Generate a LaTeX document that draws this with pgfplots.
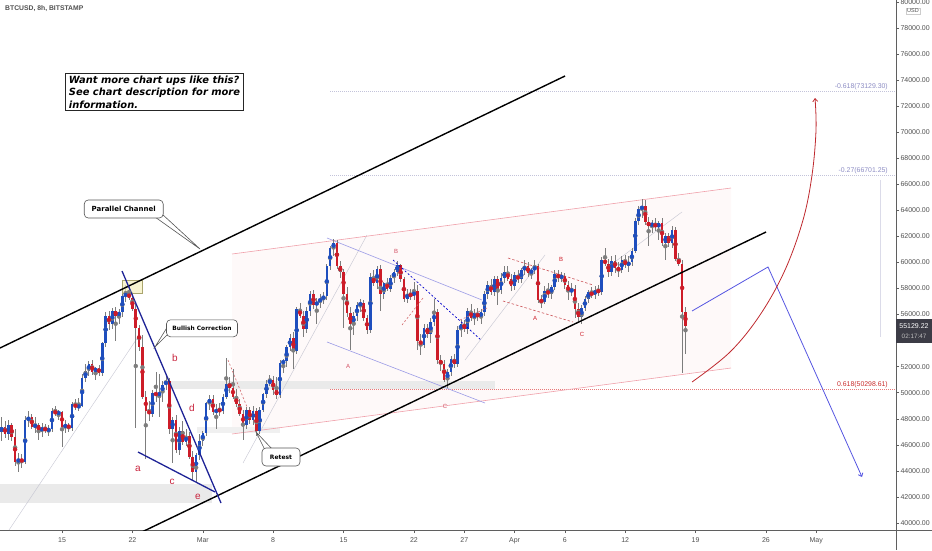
\documentclass[border=0pt]{standalone}
\usepackage{fontspec}
\setmainfont{Liberation Sans}
\newfontfamily\dejavu{DejaVu Sans}
\usepackage{pgfplots}
\usepackage{pgfplotstable}
\pgfplotsset{compat=1.18}
\usetikzlibrary{arrows.meta}

\definecolor{cblue}{RGB}{30,78,190}
\definecolor{cred}{RGB}{205,28,40}
\definecolor{wick}{RGB}{125,125,125}
\definecolor{navy}{RGB}{30,35,150}
\definecolor{pblue}{RGB}{85,85,225}
\definecolor{darkred}{RGB}{190,40,45}
\definecolor{lav}{RGB}{155,155,230}
\definecolor{pinkl}{RGB}{240,160,170}
\definecolor{pinkfill}{RGB}{254,249,249}
\definecolor{band}{RGB}{234,234,234}
\definecolor{bandl}{RGB}{240,240,240}
\definecolor{fibgray}{RGB}{195,195,218}
\definecolor{fibtext}{RGB}{140,140,195}
\definecolor{fibred}{RGB}{200,45,45}
\definecolor{fibredline}{RGB}{232,120,120}
\definecolor{letterred}{RGB}{200,35,60}
\definecolor{axisgray}{RGB}{95,95,95}
\definecolor{ticktext}{RGB}{80,80,80}
\definecolor{thingray}{RGB}{200,200,212}
\definecolor{yelfill}{RGB}{245,240,190}
\definecolor{yelborder}{RGB}{170,165,110}
\definecolor{tagbg}{RGB}{60,60,70}
\definecolor{boxgray}{RGB}{85,85,85}

\pgfplotstableread{
X o h l c
-18 47000 48100 46300 47400
-17 47400 47800 46500 46800
-16 46800 47900 46400 47500
-15 47500 47700 46300 46600
-14 46600 47200 44400 44700
-13 44700 45400 43900 44900
-12 44900 45300 44200 44700
-11 44700 48200 44500 47900
-10 47900 48600 47400 48100
-9 48100 48400 47200 47400
-8 47400 48100 46900 47500
-7 47500 47700 46400 47100
-6 47100 47700 46600 47300
-5 47300 47600 46900 47100
-4 47100 47500 46700 47200
-3 47200 48800 47000 48600
-2 48600 49000 48200 48400
-1 48400 48700 47900 48500
0 48500 48600 45800 47400
1 47400 47900 46900 47500
2 47500 47700 47000 47300
3 47300 49300 47100 49100
4 49100 49500 48700 48900
5 48900 49600 48600 49000
6 49000 51400 48900 51100
7 51100 52200 50800 51700
8 51700 52400 51300 52200
9 52200 52500 51400 51600
10 51600 52000 51000 51900
11 51900 52100 51300 51500
12 51500 53900 51300 53800
13 53800 56200 53500 55900
14 55900 56300 54800 55300
15 55300 56500 54900 56300
16 56300 56600 54000 55900
17 55900 56400 55300 56200
18 56200 57700 55800 57400
19 57400 58300 57000 57600
20 57600 58350 57100 57300
21 57300 57700 56300 56400
22 56400 56800 47300 55000
23 55000 55200 53200 53500
24 53500 54400 49500 49700
25 49700 50100 44900 48600
26 48600 49400 47800 48400
27 48400 50200 48100 50000
28 50000 51600 49300 49800
29 49800 51400 48100 50000
30 50000 50900 49300 50600
31 50600 51400 50200 50900
32 50900 51100 46800 47200
33 47200 48100 44600 47900
34 47900 48300 45400 45600
35 45600 47400 45200 47100
36 47100 47800 46000 46200
37 46200 47200 45900 46700
38 46700 47000 44900 45100
39 45100 45500 43300 43900
40 43900 45400 43100 45200
41 45200 46800 44800 46300
42 46300 47100 45900 46900
43 46900 49300 46700 49200
44 49200 49800 48700 49500
45 49500 49800 48300 48500
46 48500 49100 47200 48700
47 48700 49200 48200 48600
48 48600 49900 48400 49700
49 49700 52700 49500 50700
50 50700 51200 50000 50400
51 50400 51800 49500 49700
52 49700 50300 48900 49100
53 49100 49500 48200 48400
54 48400 48700 46400 47500
55 47500 48900 47200 48700
56 48700 48900 47600 47900
57 47900 49000 47500 48600
58 48600 48800 46700 47100
59 47100 48900 46800 48700
60 48700 50000 48500 49900
61 49900 51000 49600 50700
62 50700 51400 50500 51000
63 51000 51300 49800 50200
64 50200 51200 49500 49800
65 49800 52500 49600 52300
66 52300 52600 51500 52400
67 52400 53700 52000 53500
68 53500 54500 53200 54200
69 54200 54700 51800 53200
70 53200 56600 53000 56400
71 56400 56900 55700 55900
72 55900 56300 54300 54900
73 54900 56600 54600 56300
74 56300 57800 55900 57600
75 57600 57900 56400 56700
76 56700 57300 55300 57000
77 57000 57600 56500 57200
78 57200 57700 56800 57400
79 57400 59900 57100 59700
80 59700 61300 59400 61100
81 61100 61800 60500 61500
82 61500 61700 59500 59700
83 59700 60100 58800 59300
84 59300 59500 55000 57600
85 57600 58100 55800 56100
86 56100 56600 53300 55300
87 55300 56200 54400 55900
88 55900 57000 55500 56700
89 56700 57200 56200 56900
90 56900 57100 55500 55700
91 55700 56000 54500 54800
92 54800 59200 54600 58900
93 58900 59400 58200 58400
94 58400 59700 58000 59500
95 59500 59800 56300 57600
96 57600 58500 57200 58400
97 58400 58800 57800 58000
98 58000 59000 57700 58800
99 58800 59500 58400 59300
100 59300 60100 59000 59800
101 59800 59900 58500 58700
102 58700 58900 57000 57200
103 57200 58000 56900 57600
104 57600 58000 57100 57400
105 57400 58500 57100 57800
106 57800 58300 53300 54000
107 54000 54500 52900 53700
108 53700 55300 53400 55000
109 55000 55300 54200 54500
110 54500 55700 53800 55400
111 55400 57200 55100 56200
112 56200 56400 52200 52500
113 52500 52900 51700 52200
114 52200 52500 50800 51000
115 51000 51800 50400 51600
116 51600 52800 51300 52600
117 52600 53000 51900 52200
118 52200 55100 52000 54800
119 54800 55600 54300 55300
120 55300 55600 54700 54900
121 54900 56500 54500 56300
122 56300 56800 55500 55700
123 55700 56400 55200 56100
124 56100 56500 55500 55800
125 55800 56400 55300 56200
126 56200 57800 55900 57600
127 57600 58600 57200 58300
128 58300 58700 57500 57700
129 57700 59000 57400 58700
130 58700 59000 56700 57900
131 57900 59200 57600 58800
132 58800 59700 58400 59300
133 59300 59700 58600 58700
134 58700 59100 57800 58200
135 58200 59300 57900 59000
136 59000 59400 58400 58700
137 58700 59600 58400 59400
138 59400 60200 59000 59700
139 59700 60000 58900 59200
140 59200 59600 58700 59400
141 59400 60200 59100 59700
142 59700 59900 56900 57100
143 57100 57500 56500 57000
144 57000 58200 56800 57800
145 57800 58400 57300 57600
146 57600 58300 57200 58100
147 58100 59400 57900 59100
148 59100 59400 58500 58800
149 58800 59300 58500 59000
150 59000 59200 58000 58300
151 58300 58600 57100 57700
152 57700 58400 57400 58000
153 58000 58300 55700 56400
154 56400 56900 55500 55800
155 55800 56700 55300 56500
156 56500 57400 56300 57200
157 57200 57900 56900 57700
158 57700 58100 57300 57500
159 57500 58200 57200 57900
160 57900 58300 57400 57700
161 57700 60400 57500 60200
162 60200 61100 59700 59900
163 59900 60300 58900 59300
164 59300 60500 59000 60100
165 60100 60600 59200 59600
166 59600 60000 58900 59400
167 59400 60500 59200 60200
168 60200 60600 59600 59800
169 59800 60500 59300 60000
170 60000 61100 59700 60900
171 60900 63400 60700 63200
172 63200 64300 62900 64100
173 64100 64850 63400 64300
174 64300 64800 62900 63100
175 63100 63500 61300 62800
176 62800 63300 62300 63000
177 63000 63400 62400 62700
178 62700 63200 61700 63000
179 63000 63400 61300 61500
180 61500 62300 60200 62000
181 62000 62300 61200 61500
182 61500 62800 61100 62500
183 62500 62700 60100 60300
184 60300 60700 59700 59900
185 59900 60200 51500 56200
186 56200 56600 53000 55129
}\candles

\begin{document}
\begin{tikzpicture}
\useasboundingbox (0,-20pt) rectangle (932pt,530pt);
\begin{axis}[
  at={(0,0)}, anchor=south west,
  width=896pt, height=530pt, scale only axis,
  xmin=-18.5, xmax=248.8, ymin=39462, ymax=80150,
  axis x line*=bottom, axis y line*=right,
  axis line style={axisgray, line width=0.6pt},
  xtick={0,21,42,63,84,105,120,135,150,168,189,210,225},
  xticklabels={15,22,Mar,8,15,22,27,Apr,6,12,19,26,May},
  ytick={40000,42000,44000,46000,48000,50000,52000,54000,56000,58000,60000,62000,64000,66000,68000,70000,72000,74000,76000,78000,80000},
  yticklabels={40000.00,42000.00,44000.00,46000.00,48000.00,50000.00,52000.00,54000.00,56000.00,58000.00,60000.00,62000.00,64000.00,66000.00,68000.00,70000.00,72000.00,74000.00,76000.00,78000.00,80000.00},
  tick align=outside, major tick length=3pt,
  tick style={axisgray, line width=0.5pt},
  ticklabel style={font=\fontsize{7}{8}\selectfont, text=ticktext},
  xticklabel style={yshift=-1.5pt},
  yticklabel style={anchor=west, xshift=-2pt},
  clip=true,
]
% background areas
\addplot[draw=none, fill=pinkfill] coordinates {(50.72,60650) (199.58,65717) (199.58,51898) (50.72,46832)} -- cycle;
\addplot[draw=none, fill=band] coordinates {(-18.5,42993) (44.75,42993) (44.75,41534) (-18.5,41534)} -- cycle;
\addplot[draw=none, fill=band] coordinates {(31.62,50901) (129.18,50901) (129.18,50287) (31.62,50287)} -- cycle;
\addplot[draw=none, fill=bandl] coordinates {(40.27,47370) (65.04,47370) (65.04,46909) (40.27,46909)} -- cycle;

% fib levels
\addplot[fibgray, dash pattern=on 1pt off 1pt, line width=0.5pt] coordinates {(79.95,73129.3) (248.8,73129.3)};
\addplot[fibgray, dash pattern=on 1pt off 1pt, line width=0.5pt] coordinates {(79.95,66701.25) (248.8,66701.25)};
\addplot[fibredline, dash pattern=on 1.2pt off 0.8pt, line width=0.5pt] coordinates {(79.95,50298.61) (248.8,50298.61)};
\addplot[fibgray!60, line width=0.4pt] coordinates {(244.03,66330) (244.03,54279)};

% thin trend lines
\addplot[thingray, line width=0.45pt] coordinates {(-15.81,39462) (22.67,54279)};
\addplot[thingray, line width=0.45pt] coordinates {(54.0,44606) (90.99,62109)};
\addplot[thingray, line width=0.45pt] coordinates {(120.23,52513) (144.09,60574)};
\addplot[thingray, line width=0.45pt] coordinates {(162.89,59653) (184.96,63877)};

% pink channel
\addplot[pinkl, line width=0.6pt] coordinates {(50.72,60650) (199.58,65717)};
\addplot[pinkl, line width=0.6pt] coordinates {(50.72,46832) (199.58,51898)};

% lavender ABC channel
\addplot[lav, line width=0.6pt] coordinates {(79.06,61879) (125.3,57119)};
\addplot[lav, line width=0.6pt] coordinates {(79.06,53895) (126.19,49212)};

% candles: wicks
\addplot[only marks, mark=none, color=wick,
  error bars/.cd, y dir=both, y explicit, error mark=none,
  error bar style={line width=0.7pt, draw=wick}]
  table[x=X, y expr={(\thisrow{h}+\thisrow{l})/2}, y error expr={(\thisrow{h}-\thisrow{l})/2}] {\candles};
% candles: up bodies
\addplot[only marks, mark=none, color=cblue,
  restrict expr to domain={\thisrow{c}-\thisrow{o}}{0:1000000},
  error bars/.cd, y dir=both, y explicit, error mark=none,
  error bar style={line width=2.6pt, draw=cblue}]
  table[x=X, y expr={(\thisrow{o}+\thisrow{c})/2}, y error expr={(\thisrow{c}-\thisrow{o})/2}] {\candles};
% candles: down bodies
\addplot[only marks, mark=none, color=cred,
  restrict expr to domain={\thisrow{o}-\thisrow{c}}{0.5:1000000},
  error bars/.cd, y dir=both, y explicit, error mark=none,
  error bar style={line width=2.6pt, draw=cred}]
  table[x=X, y expr={(\thisrow{o}+\thisrow{c})/2}, y error expr={(\thisrow{o}-\thisrow{c})/2}] {\candles};

% dashed lines
\addplot[blue!80!black, dash pattern=on 2pt off 2pt, line width=0.7pt] coordinates {(98.75,60190) (125.0,54048)};
\addplot[darkred!70, dash pattern=on 2pt off 2pt, line width=0.6pt] coordinates {(101.43,55200) (107.70,57273)};
\addplot[darkred!70, dash pattern=on 2pt off 2pt, line width=0.6pt] coordinates {(49.52,52513) (55.19,48905)};
\addplot[darkred!70, dash pattern=on 2pt off 2pt, line width=0.6pt] coordinates {(118.74,55584) (126.79,56505)};
\addplot[darkred!80, dash pattern=on 2.5pt off 2pt, line width=0.6pt] coordinates {(133.05,60343) (158.41,58270)};
\addplot[darkred!80, dash pattern=on 2.5pt off 2pt, line width=0.6pt] coordinates {(131.56,57042) (152.45,55430)};

% yellow box
\addplot[fill=yelfill, fill opacity=0.7, draw=yelborder, line width=0.5pt] coordinates {(17.9,58654) (23.87,58654) (23.87,57656) (17.9,57656)} -- cycle;

% black parallel channel
\addplot[black, line width=1.4pt] coordinates {(-18.5,53434) (150.06,74315)};
\addplot[black, line width=1.4pt] coordinates {(24.0,39330) (210.02,62339)};

% falling wedge
\addplot[navy, line width=1.3pt] coordinates {(17.9,59345) (47.43,41534)};
\addplot[navy, line width=1.3pt] coordinates {(22.67,45450) (45.64,42379)};

% projection paths
\addplot[pblue, line width=0.8pt, -{Straight Barb[length=3pt,width=5pt]}] coordinates {(187.95,56275) (210.62,59653) (238.66,43531)};
\addplot[darkred, line width=0.8pt, smooth, tension=0.6, -{Straight Barb[length=3pt,width=5pt]}] coordinates {(187.95,50824) (199.28,53127) (208.23,55968) (215.69,59422) (221.06,63261) (223.75,66715) (224.94,70170) (224.64,72626)};

% fib labels
\node[anchor=south east, inner sep=1pt, text=fibtext, font=\fontsize{6.9}{8}\selectfont] at (axis cs:246.7,73129.3) {-0.618(73129.30)};
\node[anchor=south east, inner sep=1pt, text=fibtext, font=\fontsize{6.9}{8}\selectfont] at (axis cs:246.7,66701.25) {-0.27(66701.25)};
\node[anchor=south east, inner sep=1pt, text=fibred, font=\fontsize{6.9}{8}\selectfont] at (axis cs:246.7,50298.61) {0.618(50298.61)};

% title
\node[anchor=west, inner sep=0pt, text=ticktext, font=\fontsize{6.8}{8}\selectfont\bfseries] at (axis cs:-17.0,79459) {BTCUSD, 8h, BITSTAMP};

% info box
\node[anchor=north west, draw=black!85, line width=0.8pt, fill=white, align=left, inner xsep=3.5pt, inner ysep=2.5pt, font=\dejavu\bfseries\itshape\fontsize{9.9}{12.4}\selectfont] at (axis cs:0.895,74546) {Want more chart ups like this?\\See chart description for more\\information.};

% callouts
\draw[boxgray, fill=white, line width=0.6pt] (axis cs:27.74,63491) -- (axis cs:41.17,61034) -- (axis cs:29.83,63721);
\node[draw=boxgray, fill=white, rounded corners=4pt, line width=0.6pt, minimum width=79pt, minimum height=18pt, inner sep=1pt, font=\dejavu\bfseries\fontsize{7}{8}\selectfont] at (axis cs:18.41,64105) {Parallel Channel};
\draw[boxgray, fill=white, line width=0.6pt] (axis cs:31.6,55123) -- (axis cs:27.74,53511) -- (axis cs:31.6,54509);
\node[draw=boxgray, fill=white, rounded corners=4pt, line width=0.6pt, minimum width=71pt, minimum height=17pt, inner sep=1pt, font=\dejavu\bfseries\fontsize{5.9}{7}\selectfont] at (axis cs:41.77,54946) {Bullish Correction};
\draw[boxgray, fill=white, line width=0.6pt] (axis cs:60.56,45600) -- (axis cs:57.88,46986) -- (axis cs:62.95,45600);
\node[draw=boxgray, fill=white, rounded corners=4pt, line width=0.6pt, minimum width=38pt, minimum height=18pt, inner sep=1pt, font=\dejavu\bfseries\fontsize{6}{7}\selectfont] at (axis cs:65.33,45066) {Retest};

% wave letters
\node[text=letterred, font=\fontsize{10}{12}\selectfont] at (axis cs:33.71,52666) {b};
\node[text=letterred, font=\fontsize{10}{12}\selectfont] at (axis cs:38.78,48828) {d};
\node[text=letterred, font=\fontsize{10}{12}\selectfont] at (axis cs:22.67,44145) {a};
\node[text=letterred, font=\fontsize{10}{12}\selectfont] at (axis cs:32.82,43147) {c};
\node[text=letterred, font=\fontsize{10}{12}\selectfont] at (axis cs:40.57,41996) {e};
\node[text=letterred!80, font=\fontsize{6}{7}\selectfont] at (axis cs:99.64,60881) {B};
\node[text=letterred!80, font=\fontsize{6}{7}\selectfont] at (axis cs:85.32,52052) {A};
\node[text=letterred!80, font=\fontsize{6}{7}\selectfont] at (axis cs:114.26,48981) {C};
\node[text=cred, font=\fontsize{6}{7}\selectfont] at (axis cs:148.87,60267) {B};
\node[text=cred, font=\fontsize{6}{7}\selectfont] at (axis cs:141.11,55738) {A};
\node[text=cred, font=\fontsize{6}{7}\selectfont] at (axis cs:155.13,54509) {C};
\end{axis}
% axis extensions and price tag
\draw[axisgray, line width=0.6pt] (896pt,0) -- (932pt,0);
\draw[axisgray, line width=0.6pt] (896pt,0) -- (896pt,-20pt);
\fill[tagbg] (896.3pt,187pt) rectangle (932pt,211pt);
\node[text=white, inner sep=0pt, font=\fontsize{7}{8}\selectfont] at (914pt,204pt) {55129.22};
\node[text=white!75!black, inner sep=0pt, font=\fontsize{6.3}{7}\selectfont] at (914pt,194pt) {02:17:47};
\node[text=ticktext, draw=black!20, inner sep=1pt, font=\fontsize{5.5}{6}\selectfont] at (913pt,519pt) {USD};
\end{tikzpicture}
\end{document}
